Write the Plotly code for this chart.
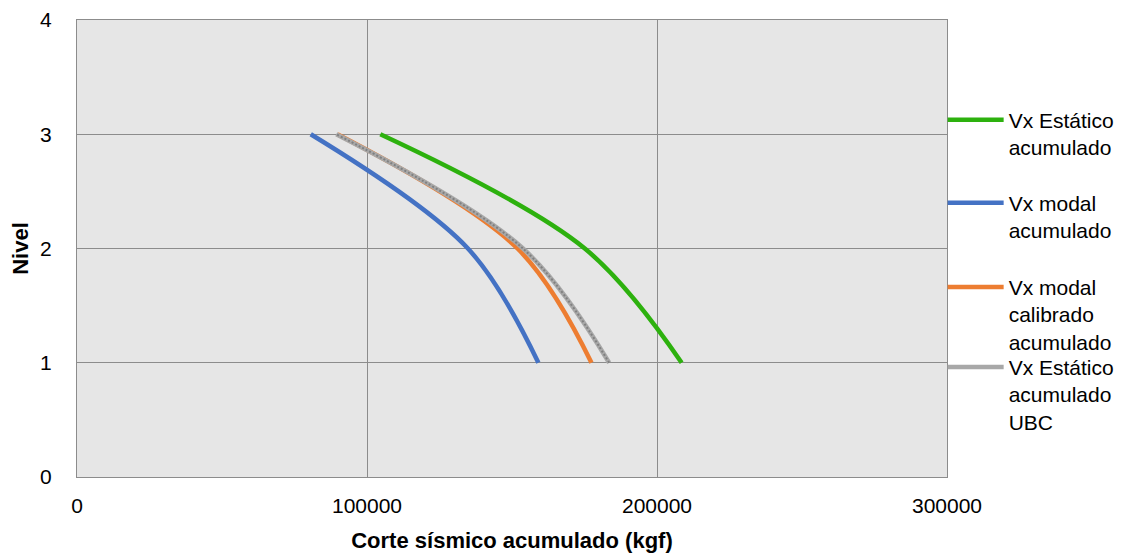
import plotly.graph_objects as go

niveles = [1, 2, 3]
vx_estatico = [208500, 175100, 104600]
vx_modal = [159100, 134800, 80600]
vx_modal_calibrado = [177400, 151900, 89800]
vx_estatico_ubc = [183500, 153800, 89400]

names = ["Vx Estático<br>acumulado", "Vx modal<br>acumulado",
         "Vx modal<br>calibrado<br>acumulado", "Vx Estático<br>acumulado<br>UBC"]
colors = ["#2db10e", "#4472c4", "#ed7d31", "#a8a8a8"]

FONT = "Liberation Sans, Arial, sans-serif"
fig = go.Figure()
series = [vx_estatico, vx_modal, vx_modal_calibrado, vx_estatico_ubc]
legends = ["legend", "legend2", "legend3", "legend4"]
for vals, name, col, lg in zip(series, names, colors, legends):
    fig.add_trace(go.Scatter(x=vals, y=niveles, mode="lines", name=name,
                             line=dict(color=col, width=4.5, shape="spline", smoothing=1),
                             legend=lg))
# texture overlay for UBC line
fig.add_trace(go.Scatter(x=vx_estatico_ubc, y=niveles, mode="lines", showlegend=False,
                         line=dict(color="#808080", width=2, shape="spline", smoothing=1, dash="2px,2px"),
                         hoverinfo="skip"))

leg_common = dict(x=0.995, xanchor="left", yanchor="top", bgcolor="rgba(0,0,0,0)",
                  font=dict(family=FONT, size=21, color="#000000"), valign="top",
                  itemwidth=56)
fig.update_layout(
    width=1123, height=548,
    margin=dict(l=69, r=184, t=12, b=79, autoexpand=False),
    paper_bgcolor="white", plot_bgcolor="#e6e6e6",
    font=dict(family=FONT, size=21, color="#000000"),
    legend=dict(y=0.826, **leg_common),
    legend2=dict(y=0.644, **leg_common),
    legend3=dict(y=0.460, **leg_common),
    legend4=dict(y=0.285, **leg_common),
    xaxis=dict(range=[0, 300000], dtick=100000, tickformat="d", showgrid=True, automargin=False,
               gridcolor="#8c8c8c", gridwidth=1, showline=True, linecolor="#8c8c8c",
               mirror=True, zeroline=False, ticks="outside", ticklen=10, tickcolor="rgba(0,0,0,0)",
               title=dict(text="<b>Corte sísmico acumulado (kgf)</b>", standoff=16,
                          font=dict(family=FONT, size=22))),
    yaxis=dict(range=[0, 4], dtick=1, showgrid=True, gridcolor="#8c8c8c", gridwidth=1, automargin=False,
               showline=True, linecolor="#8c8c8c", mirror=True, zeroline=False,
               ticks="outside", ticklen=20, tickcolor="rgba(0,0,0,0)",
               title=dict(text="<b>Nivel</b>", standoff=6, font=dict(family=FONT, size=22))),
)
fig.write_html("out.html")
